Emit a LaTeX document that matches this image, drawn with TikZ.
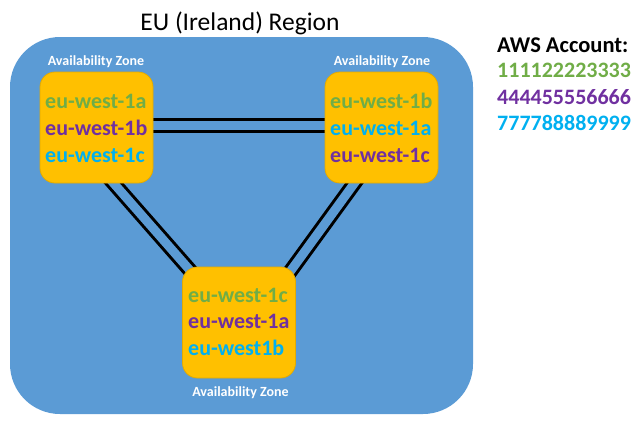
\documentclass[tikz,border=0pt]{standalone}
\usepackage{fontspec}
\setmainfont{Carlito}
\usetikzlibrary{calc}
\definecolor{regionblue}{HTML}{5B9BD5}
\definecolor{azyellow}{HTML}{FFC000}
\definecolor{azborder}{HTML}{E3AA00}
\definecolor{cgreen}{HTML}{70AD47}
\definecolor{cpurple}{HTML}{7030A0}
\definecolor{ccyan}{HTML}{00B0F0}
\pgfdeclarelayer{bg}
\pgfdeclarelayer{lines}
\pgfsetlayers{bg,lines,main}
\tikzset{
  azbox/.style={draw=azborder, line width=0.8pt, fill=azyellow, rounded corners=15pt,
    minimum width=113pt, minimum height=111pt, inner sep=0pt},
  azname/.style={font=\fontsize{22}{27}\selectfont\bfseries, anchor=base west, inner sep=0pt},
  azlabel/.style={font=\fontsize{14}{16}\selectfont\bfseries, text=white, anchor=base, inner sep=0pt},
  acct/.style={font=\fontsize{22.5}{27}\selectfont\bfseries, anchor=base west, inner sep=0pt},
  acctnum/.style={font=\fontsize{22}{27}\selectfont\bfseries, anchor=base west, inner sep=0pt},
  link/.style={draw=black, line width=3pt, double=regionblue, double distance=9pt},
}
\begin{document}
\begin{tikzpicture}[x=1pt,y=-1pt]
\useasboundingbox (0,0) rectangle (639,421);
\begin{pgfonlayer}{bg}
\node[fill=regionblue, rounded corners=50pt, minimum width=463pt, minimum height=377pt, inner sep=0pt] (region) at (241.5,225.5) {};
\end{pgfonlayer}
\node[font=\fontsize{25.5}{30}\selectfont, anchor=base, inner sep=0pt] (title) at (240,30) {EU (Ireland) Region};

\node[azbox] (b1) at (96.5,127.5) {};
\node[azbox] (b2) at (381.5,127.5) {};
\node[azbox] (b3) at (239,322.5) {};

\node[azlabel] (l1) at (96,65) {Availability Zone};
\node[azlabel] (l2) at (382,65) {Availability Zone};
\node[azlabel] (l3) at (240.5,396) {Availability Zone};

\node[azname, text=cgreen]  (t1a) at (45,108) {eu-west-1a};
\node[azname, text=cpurple] (t1b) at (45,135) {eu-west-1b};
\node[azname, text=ccyan]   (t1c) at (45,162) {eu-west-1c};

\node[azname, text=cgreen]  (t2a) at (330,108) {eu-west-1b};
\node[azname, text=ccyan]   (t2b) at (330,135) {eu-west-1a};
\node[azname, text=cpurple] (t2c) at (330,162) {eu-west-1c};

\node[azname, text=cgreen]  (t3a) at (188,302) {eu-west-1c};
\node[azname, text=cpurple] (t3b) at (188,328.5) {eu-west-1a};
\node[azname, text=ccyan]   (t3c) at (188,355) {eu-west1b};

\node[acct, text=black]      (aws) at (497,52) {AWS Account:};
\node[acctnum, text=cgreen]  (n1)  at (497,77) {111122223333};
\node[acctnum, text=cpurple] (n2)  at (497,104) {444455556666};
\node[acctnum, text=ccyan]   (n3)  at (497,130.5) {777788889999};

\begin{pgfonlayer}{lines}
\draw[link] ($(b1.east)+(-5,-2.5)$) -- ($(b2.west)+(5,-2.5)$);
\draw[link] ($(b1.south)+(8.5,-10)$) -- ($(b3.north west)+(16,13)$);
\draw[link] ($(b2.south)+(-20,-10)$) -- ($(b3.north east)+(-13,15)$);
\end{pgfonlayer}
\end{tikzpicture}
\end{document}
